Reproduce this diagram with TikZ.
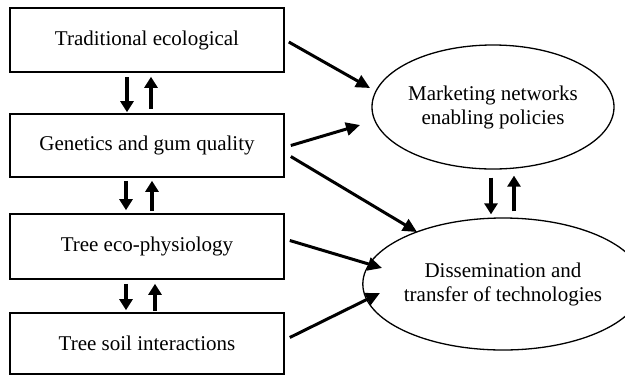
\documentclass[tikz,border=0pt]{standalone}
\usepackage{fontspec}
\setmainfont{Liberation Serif}
\usetikzlibrary{arrows.meta,shapes.geometric}
\begin{document}
\begin{tikzpicture}[x=1pt,y=-1pt,
  box/.style={draw, line width=1.6pt, minimum width=274pt, inner sep=0pt, font=\fontsize{21}{24}\selectfont},
  oval/.style={draw, ellipse, line width=1.3pt, inner sep=0pt, align=center, font=\fontsize{21}{24}\selectfont},
  arr/.style={line width=3pt, -{Triangle[length=14pt,width=13pt]}},
  varr/.style={line width=4.5pt, -{Triangle[length=11pt,width=13pt]}}]
\useasboundingbox (0,0) rectangle (625,376);
\node[box, minimum height=64pt] (b1) at (147,40) {Traditional ecological};
\node[box, minimum height=63pt] (b2) at (147,145.5) {Genetics and gum quality};
\node[box, minimum height=65pt] (b3) at (147,246.5) {Tree eco-physiology};
\node[box, minimum height=61pt] (b4) at (147,343.5) {Tree soil interactions};
\node[oval, minimum width=242pt, minimum height=124pt] (e1) at (493,107) {Marketing networks\\enabling policies};
\node[oval, minimum width=242pt, minimum height=132pt] (e2) at (503,284) {Dissemination and\\transfer of technologies};
% vertical arrows between boxes
\draw[varr] ([shift={(-20,4)}]b1.south) -- ([shift={(-20,-1)}]b2.north);
\draw[varr] ([shift={(4,-4)}]b2.north) -- ([shift={(4,4)}]b1.south);
\draw[varr] ([shift={(-21,3)}]b2.south) -- ([shift={(-21,-3)}]b3.north);
\draw[varr] ([shift={(5,-2)}]b3.north) -- ([shift={(5,3)}]b2.south);
\draw[varr] ([shift={(-21,4)}]b3.south) -- ([shift={(-21,-2)}]b4.north);
\draw[varr] ([shift={(8,-1)}]b4.north) -- ([shift={(8,4)}]b3.south);
% vertical arrows between ellipses
\draw[varr] ([shift={(-2,8)}]e1.south) -- ([shift={(-2,-3)}]e1.south |- e2.north);
\draw[varr] ([shift={(21,-6)}]e1.south |- e2.north) -- ([shift={(21,6)}]e1.south);
% diagonal arrows
\draw[arr] ([shift={(4,2)}]b1.east) -- ([shift={(-123,-19)}]e1.center);
\draw[arr] ([shift={(6,0)}]b2.east) -- ([shift={(-133,18)}]e1.center);
\draw[arr] ([shift={(6,11)}]b2.east) -- ([shift={(-86,-52)}]e2.center);
\draw[arr] ([shift={(5,-6)}]b3.east) -- ([shift={(-121,-16)}]e2.center);
\draw[arr] ([shift={(5,-6)}]b4.east) -- ([shift={(-123,9)}]e2.center);
\end{tikzpicture}
\end{document}
